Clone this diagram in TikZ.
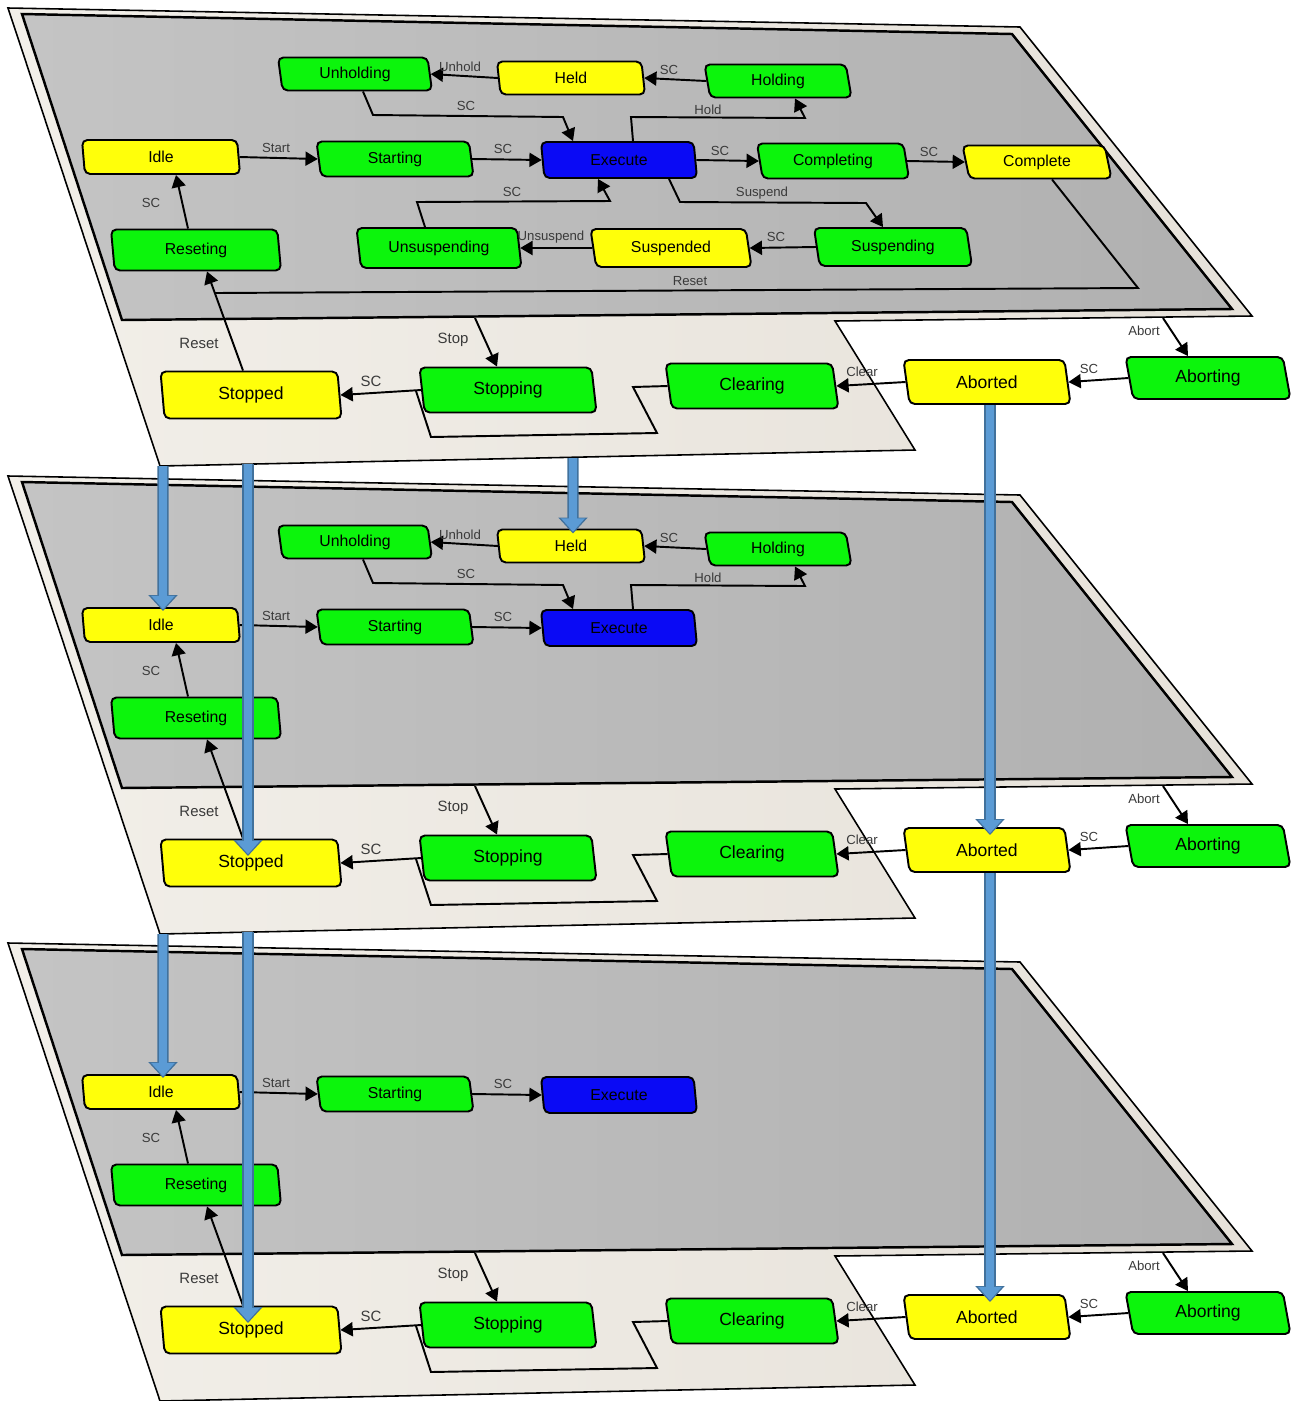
\documentclass[tikz,border=0pt]{standalone}
\usepackage{fontspec}
\setmainfont{Liberation Sans}
\usetikzlibrary{shapes.geometric,arrows.meta,calc}
\definecolor{ngreen}{HTML}{0CF50C}
\definecolor{nyellow}{HTML}{FFFF0A}
\definecolor{nblue}{HTML}{0A0AF5}
\definecolor{grayL}{HTML}{C4C4C4}
\definecolor{grayR}{HTML}{B0B0B0}
\definecolor{creamL}{HTML}{F2EFE9}
\definecolor{creamR}{HTML}{E6E1D9}
\definecolor{bfill}{HTML}{5B9BD5}
\definecolor{bedge}{HTML}{41719C}
\definecolor{lblc}{HTML}{3A3A3A}
\tikzset{
 st/.style={shape=trapezium, trapezium stretches body=true, draw=black, line width=1.1pt, rounded corners=3pt, inner sep=0pt, font=\fontsize{9}{10}\selectfont},
 sA/.style={trapezium left angle=104, trapezium right angle=76},
 sB/.style={trapezium left angle=107, trapezium right angle=73},
 sC/.style={trapezium left angle=111, trapezium right angle=69},
 sD/.style={trapezium left angle=115, trapezium right angle=65},
 wh/.style 2 args={minimum width={#1*0.02cm}, minimum height={#2*0.02cm}},
 gn/.style={st, fill=ngreen},
 yl/.style={st, fill=nyellow},
 bu/.style={st, fill=nblue},
 big/.style={font=\fontsize{10}{11}\selectfont},
 lbl/.style={font=\fontsize{7.5}{8}\selectfont, text=lblc, inner sep=0pt},
 lblb/.style={font=\fontsize{8.5}{9}\selectfont, text=lblc, inner sep=0pt},
 arr/.style={draw=black, line width=1.1pt, -{Triangle[length=7pt,width=8pt]}},
 ln/.style={draw=black, line width=1.1pt},
 bo/.style={draw=bedge, line width=6.4pt, -{Triangle[length=9pt,width=16pt]}},
 bi/.style={draw=bfill, line width=4.4pt, shorten >=1pt, -{Triangle[length=7.6pt,width=13pt]}}
}
% sheet of a layer
\newcommand\Sheet[1]{%
 \draw[line width=0.9pt, left color=creamL, right color=creamR] (8,8) -- (1020,27) -- (1252,316) -- (835,321) -- (915,450) -- (160,466) -- cycle;
 \draw[line width=1.4pt, left color=grayL, right color=grayR] (22,14) -- (1012,34) -- (1232,309) -- (122,320) -- cycle;
 \coordinate (#1bA) at (163,466);
 \coordinate (#1bB) at (248,464);
 \coordinate (#1bC) at (573,458);
}
% nodes common to all layers
\newcommand\Core[1]{%
 \node[yl,sA,wh={158}{34}] (#1idle) at (161,157) {Idle};
 \node[gn,sB,wh={157}{35}] (#1starting) at (395,159) {Starting};
 \node[bu,sB,wh={156}{36}] (#1execute) at (619,160) {Execute};
 \node[gn,sA,wh={170}{41}] (#1reseting) at (196,250) {Reseting};
 \node[yl,sA,big,wh={181}{47}] (#1stopped) at (251,395) {Stopped};
 \node[gn,sB,big,wh={177}{45}] (#1stopping) at (508,390) {Stopping};
 \node[gn,sC,big,wh={173}{45}] (#1clearing) at (752,386) {Clearing};
 \node[yl,sD,big,wh={167}{44}] (#1aborted) at (987,382) {Aborted};
 \node[gn,sD,big,wh={165}{42}] (#1aborting) at (1208,378) {Aborting};
 \draw[arr] (#1idle.east) -- (#1starting.west);
 \node[lbl] (#1lstart) at (276,148) {Start};
 \draw[arr] (#1starting.east) -- (#1execute.west);
 \node[lbl] (#1lsca) at (503,149) {SC};
 \draw[arr] ($(#1reseting.north)+(-8,0)$) -- ($(#1idle.south)+(15,0)$);
 \node[lbl] (#1lscb) at (151,203) {SC};
 \draw[arr] ($(#1stopped.north)+(-8,0)$) -- ($(#1reseting.south)+(11,0)$);
 \node[lblb] (#1lreset) at (199,343) {Reset};
 \coordinate (#1stopsrc) at (475,318);
 \draw[arr] (#1stopsrc) -- ($(#1stopping.north)+(-11,0)$);
 \node[lblb] (#1lstop) at (453,340) {Stop};
 \draw[arr] (#1stopping.west) -- (#1stopped.east);
 \node[lblb] (#1lscc) at (371,381) {SC};
 \coordinate (#1cj) at (416,391);
 \draw[ln] (#1clearing.west) -- (633,387) -- (657,433) -- (431,437) -- (#1cj);
 \draw[arr] (#1aborted.west) -- (#1clearing.east);
 \node[lbl] (#1lclear) at (862,372) {Clear};
 \draw[arr] (#1aborting.west) -- (#1aborted.east);
 \node[lbl] (#1lscd) at (1089,369) {SC};
 \coordinate (#1abs) at (1163,318);
 \draw[arr] (#1abs) -- ($(#1aborting.north)+(-20,0)$);
 \node[lbl] (#1labort) at (1144,331) {Abort};
}
% hold part
\newcommand\HoldPart[1]{%
 \node[gn,sB,wh={154}{33}] (#1unholding) at (355,74) {Unholding};
 \node[yl,sB,wh={148}{33}] (#1held) at (571,78) {Held};
 \node[gn,sC,wh={147}{33}] (#1holding) at (778,81) {Holding};
 \draw[arr] (#1held.west) -- (#1unholding.east);
 \node[lbl] (#1lunhold) at (460,67) {Unhold};
 \draw[arr] (#1holding.west) -- (#1held.east);
 \node[lbl] (#1lsce) at (669,70) {SC};
 \draw[arr] ($(#1unholding.south)+(8,0)$) -- (373,115) -- (563,117) -- ($(#1execute.north)+(-46,0)$);
 \node[lbl] (#1lscf) at (466,106) {SC};
 \draw[arr] ($(#1execute.north)+(14,0)$) -- (631,117) -- (805,118) -- ($(#1holding.south)+(17,0)$);
 \node[lbl] (#1lhold) at (708,110) {Hold};
}
% full part (top layer only)
\newcommand\FullPart[1]{%
 \node[gn,sC,wh={152}{35}] (#1completing) at (833,161) {Completing};
 \node[yl,sD,wh={149}{33}] (#1complete) at (1037,162) {Complete};
 \node[gn,sB,wh={165}{40}] (#1unsuspending) at (439,248) {Unsuspending};
 \node[yl,sC,wh={161}{38}] (#1suspended) at (671,248) {Suspended};
 \node[gn,sC,wh={158}{38}] (#1suspending) at (893,247) {Suspending};
 \draw[arr] (#1execute.east) -- (#1completing.west);
 \node[lbl] (#1lscg) at (720,151) {SC};
 \draw[arr] (#1completing.east) -- (#1complete.west);
 \node[lbl] (#1lsch) at (929,152) {SC};
 \draw[arr] ($(#1execute.south)+(50,0)$) -- (680,202) -- (866,203) -- ($(#1suspending.north)+(-10,0)$);
 \node[lbl] (#1lsuspend) at (762,193) {Suspend};
 \draw[arr] (#1suspending.west) -- (#1suspended.east);
 \node[lbl] (#1lsci) at (776,237) {SC};
 \draw[arr] (#1suspended.west) -- (#1unsuspending.east);
 \node[lbl] (#1lunsuspend) at (551,237) {Unsuspend};
 \draw[arr] ($(#1unsuspending.north)+(-14,0)$) -- (417,202) -- (610,201) -- ($(#1execute.south)+(-21,0)$);
 \node[lbl] (#1lscj) at (512,192) {SC};
 \coordinate (#1rj) at (215,293);
 \draw[ln] ($(#1complete.south)+(15,0)$) -- (1138,288) -- (#1rj);
 \node[lbl] (#1lresetb) at (690,281) {Reset};
}
\begin{document}
\begin{tikzpicture}[x=0.02cm,y=-0.02cm]
\useasboundingbox (0,0) rectangle (1293,1401);
% top layer
\begin{scope}
 \Sheet{t}\Core{t}\HoldPart{t}\FullPart{t}
\end{scope}
% middle layer
\begin{scope}[shift={(0,468)}]
 \Sheet{m}\Core{m}\HoldPart{m}
\end{scope}
% bottom layer
\begin{scope}[shift={(0,935)}]
 \Sheet{b}\Core{b}
\end{scope}
% blue inter-layer arrows
\foreach \s/\e in {tbA/{$(midle.north)+(2,4)$}}{}
\draw[bo] (tbA) -- ($(midle.north)+(2,4)$);
\draw[bi] (tbA) -- ($(midle.north)+(2,4)$);
\draw[bo] (tbB) -- ($(mstopped.center)+(-3,-7)$);
\draw[bi] (tbB) -- ($(mstopped.center)+(-3,-7)$);
\draw[bo] (tbC) -- ($(mheld.north)+(2,5)$);
\draw[bi] (tbC) -- ($(mheld.north)+(2,5)$);
\draw[bo] ($(taborted.south)+(3,0)$) -- ($(maborted.north)+(3,8)$);
\draw[bi] ($(taborted.south)+(3,0)$) -- ($(maborted.north)+(3,8)$);
\draw[bo] (mbA) -- ($(bidle.north)+(2,4)$);
\draw[bi] (mbA) -- ($(bidle.north)+(2,4)$);
\draw[bo] (mbB) -- ($(bstopped.center)+(-3,-7)$);
\draw[bi] (mbB) -- ($(bstopped.center)+(-3,-7)$);
\draw[bo] ($(maborted.south)+(3,0)$) -- ($(baborted.north)+(3,8)$);
\draw[bi] ($(maborted.south)+(3,0)$) -- ($(baborted.north)+(3,8)$);
\end{tikzpicture}
\end{document}
